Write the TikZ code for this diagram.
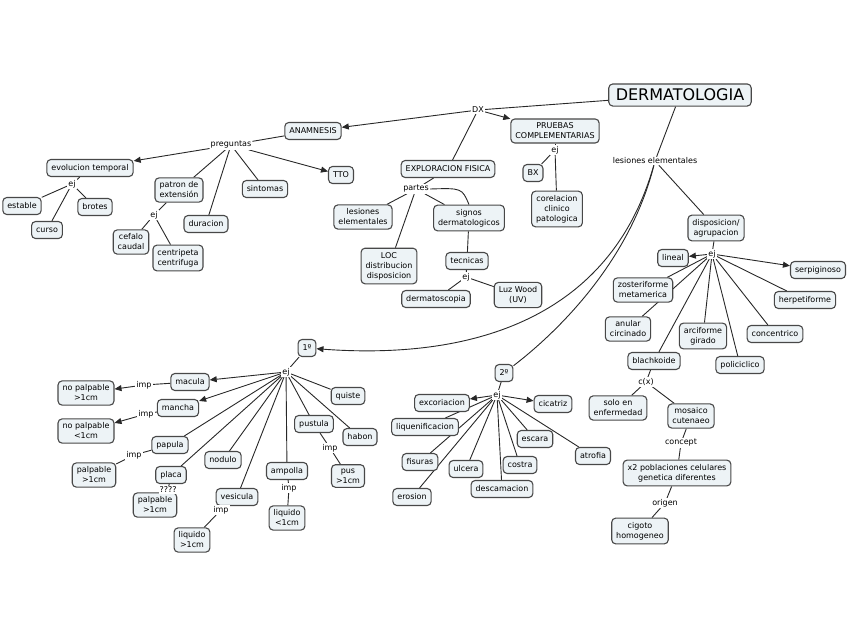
\documentclass[tikz,border=0pt]{standalone}
\usepackage{fontspec}
\setmainfont{DejaVu Sans}
\usetikzlibrary{arrows.meta,backgrounds}
\definecolor{boxfill}{RGB}{237,243,246}
\definecolor{boxline}{RGB}{72,72,72}
\definecolor{linkline}{RGB}{40,40,40}
\tikzset{
  concept/.style={draw=boxline,fill=boxfill,line width=1.1pt,rounded corners=4pt,
    align=center,inner xsep=4.5pt,inner ysep=4pt,minimum height=17pt,
    font=\fontsize{8}{10}\selectfont},
  phrase/.style={fill=white,inner sep=1pt,font=\fontsize{8}{10}\selectfont},
  >={Triangle[length=7pt,width=6pt]}
}
\begin{document}
\begin{tikzpicture}[x=1pt,y=-1pt]
      \useasboundingbox (0,0) rectangle (848,638);
      \begin{scope}[every node/.style={concept}]
        \node[font=\fontsize{16}{18}\selectfont,inner xsep=7pt,inner ysep=5pt] (derm) at (680,95) {DERMATOLOGIA};
        \node (anam) at (313,131) {ANAMNESIS};
        \node (pruebas) at (555,131) {PRUEBAS\\COMPLEMENTARIAS};
        \node (explo) at (448,169) {EXPLORACION FISICA};
        \node (bx) at (533,173) {BX};
        \node (corel) at (557,209) {corelacion\\clinico\\patologica};
        \node (evol) at (90,168) {evolucion temporal};
        \node (tto) at (341,175) {TTO};
        \node (patron) at (179,190) {patron de\\extensión};
        \node (sint) at (265,189) {sintomas};
        \node (estable) at (22,206) {estable};
        \node (brotes) at (95,207) {brotes};
        \node (curso) at (47,230) {curso};
        \node (durac) at (206,224) {duracion};
        \node (cefalo) at (131,242) {cefalo\\caudal};
        \node (centri) at (178,258) {centripeta\\centrifuga};
        \node (lesbox) at (363,217) {lesiones\\elementales};
        \node (signos) at (469,218) {signos\\dermatologicos};
        \node (loc) at (389,266) {LOC\\distribucion\\disposicion};
        \node (tecn) at (467,261) {tecnicas};
        \node (luz) at (518,295) {Luz Wood\\(UV)};
        \node (dermato) at (436,299) {dermatoscopia};
        % agrupacion
        \node (dispo) at (716,228) {disposicion/\\agrupacion};
        \node (lineal) at (673,258) {lineal};
        \node (serp) at (818,270) {serpiginoso};
        \node (zoster) at (643,290) {zosteriforme\\metamerica};
        \node (herp) at (805,300) {herpetiforme};
        \node (anular) at (628,329) {anular\\circinado};
        \node (arci) at (703,336) {arciforme\\girado};
        \node (conc) at (775,334) {concentrico};
        \node (blach) at (654,361) {blachkoide};
        \node (polic) at (740,365) {policiclico};
        \node (solo) at (618,408) {solo en\\enfermedad};
        \node (mosaico) at (691,416) {mosaico\\cutenaeo};
        \node (pobl) at (677,473) {x2 poblaciones celulares\\genetica diferentes};
        \node (cigoto) at (640,531) {cigoto\\homogeneo};
        % primarias
        \node (prim) at (307,348) {1º};
        \node (macula) at (190,382) {macula};
        \node (nopalA) at (86,393) {no palpable\\>1cm};
        \node (mancha) at (178,408) {mancha};
        \node (nopalB) at (86,431) {no palpable\\<1cm};
        \node (quiste) at (348,396) {quiste};
        \node (pustula) at (314,424) {pustula};
        \node (habon) at (360,437) {habon};
        \node (papula) at (170,445) {papula};
        \node (palpA) at (94,475) {palpable\\>1cm};
        \node (nodulo) at (223,460) {nodulo};
        \node (placa) at (171,475) {placa};
        \node (palpB) at (155,505) {palpable\\>1cm};
        \node (ampolla) at (287,471) {ampolla};
        \node (liqB) at (287,518) {liquido\\<1cm};
        \node (pus) at (348,476) {pus\\>1cm};
        \node (vesic) at (237,497) {vesicula};
        \node (liqA) at (192,540) {liquido\\>1cm};
        % secundarias
        \node (seg) at (504,373) {2º};
        \node (excor) at (442,403) {excoriacion};
        \node (cicat) at (553,404) {cicatriz};
        \node (liquen) at (425,427) {liquenificacion};
        \node (escara) at (535,439) {escara};
        \node (atrof) at (593,456) {atrofia};
        \node (fisuras) at (420,462) {fisuras};
        \node (ulcera) at (466,469) {ulcera};
        \node (costra) at (520,465) {costra};
        \node (desc) at (502,489) {descamacion};
        \node (erosion) at (412,497) {erosion};
      \end{scope}
      \begin{scope}[every node/.style={phrase}]
        \node (dx) at (478,110) {DX};
        \node (preg) at (231,145) {preguntas};
        \node (ejPr) at (555,150) {ej};
        \node (lesl) at (655,161) {lesiones elementales};
        \node (ejEv) at (72,184) {ej};
        \node (partes) at (416,189) {partes};
        \node (ejPa) at (154,215) {ej};
        \node (ejTe) at (466,277) {ej};
        \node (ejDi) at (712,254) {ej};
        \node (cx) at (646,382) {c(x)};
        \node (concept) at (681,443) {concept};
        \node (origen) at (665,503) {origen};
        \node (ejPrim) at (286,372) {ej};
        \node (impMac) at (144,385) {imp};
        \node (impMan) at (146,414) {imp};
        \node (impPap) at (134,455) {imp};
        \node (qqq) at (168,490) {????};
        \node (impAmp) at (289,488) {imp};
        \node (impPus) at (330,448) {imp};
        \node (impVes) at (221,510) {imp};
        \node (ejSeg) at (497,395) {ej};
      \end{scope}
      \begin{scope}[on background layer,every edge/.style={draw=linkline,line width=0.9pt}]
          \path (derm) edge (dx);
          \path (dx) edge[->] (anam);
          \path (dx) edge (explo);
          \path (dx) edge[->] (pruebas);
          \path (anam) edge (preg);
          \path (preg) edge[->] (evol);
          \path (preg) edge (patron);
          \path (preg) edge (durac);
          \path (preg) edge (sint);
          \path (preg) edge[->] (tto);
          \path (evol) edge (ejEv);
          \path (ejEv) edge (estable);
          \path (ejEv) edge (curso);
          \path (ejEv) edge (brotes);
          \path (patron) edge (ejPa);
          \path (ejPa) edge (cefalo);
          \path (ejPa) edge (centri);
          \path (explo) edge (partes);
          \path (partes) edge (lesbox);
          \path (partes) edge (loc);
          \path (partes) edge (signos);
          \draw[linkline,line width=0.9pt] (partes.east) .. controls (462,188) .. (signos.north);
          \path (signos) edge (tecn);
          \path (tecn) edge (ejTe);
          \path (ejTe) edge (dermato);
          \path (ejTe) edge (luz);
          \path (pruebas) edge (ejPr);
          \path (ejPr) edge (bx);
          \path (ejPr) edge (corel);
          % lesiones elementales
          \path (derm) edge (lesl);
          \path (lesl) edge (dispo);
          \draw[->,linkline,line width=0.9pt] (lesl) .. controls (610,320) and (470,360) .. (prim);
          \draw[linkline,line width=0.9pt] (lesl) .. controls (630,260) and (560,330) .. (seg);
          \path (dispo) edge (ejDi);
          \path (ejDi) edge[->] (lineal);
          \path (ejDi) edge[->] (serp);
          \path (ejDi) edge (zoster);
          \path (ejDi) edge (anular);
          \path (ejDi) edge (blach);
          \path (ejDi) edge (arci);
          \path (ejDi) edge (polic);
          \path (ejDi) edge (conc);
          \path (ejDi) edge (herp);
          \path (blach) edge (cx);
          \path (cx) edge (solo);
          \path (cx) edge (mosaico);
          \path (mosaico) edge (concept);
          \path (concept) edge (pobl);
          \path (pobl) edge (origen);
          \path (origen) edge (cigoto);
          % 1
          \path (prim) edge (ejPrim);
          \path (ejPrim) edge[->] (macula);
          \path (ejPrim) edge[->] (mancha);
          \path (ejPrim) edge (papula);
          \path (ejPrim) edge (placa);
          \path (ejPrim) edge (nodulo);
          \path (ejPrim) edge (vesic);
          \path (ejPrim) edge (ampolla);
          \path (ejPrim) edge (pustula);
          \path (ejPrim) edge (habon);
          \path (ejPrim) edge (quiste);
          \path (macula) edge (impMac);
          \path (impMac) edge[->] (nopalA);
          \path (mancha) edge (impMan);
          \path (impMan) edge[->] (nopalB);
          \path (papula) edge (impPap);
          \path (impPap) edge (palpA);
          \path (placa) edge (qqq);
          \path (qqq) edge (palpB);
          \path (vesic) edge (impVes);
          \path (impVes) edge (liqA);
          \path (ampolla) edge (impAmp);
          \path (impAmp) edge (liqB);
          \path (pustula) edge (impPus);
          \path (impPus) edge (pus);
          % 2
          \path (seg) edge (ejSeg);
          \path (ejSeg) edge[->] (excor);
          \path (ejSeg) edge[->] (cicat);
          \path (ejSeg) edge (liquen);
          \path (ejSeg) edge (fisuras);
          \path (ejSeg) edge (erosion);
          \path (ejSeg) edge (ulcera);
          \path (ejSeg) edge (desc);
          \path (ejSeg) edge (costra);
          \path (ejSeg) edge (escara);
          \path (ejSeg) edge (atrof);
      \end{scope}
    \end{tikzpicture}
\end{document}
